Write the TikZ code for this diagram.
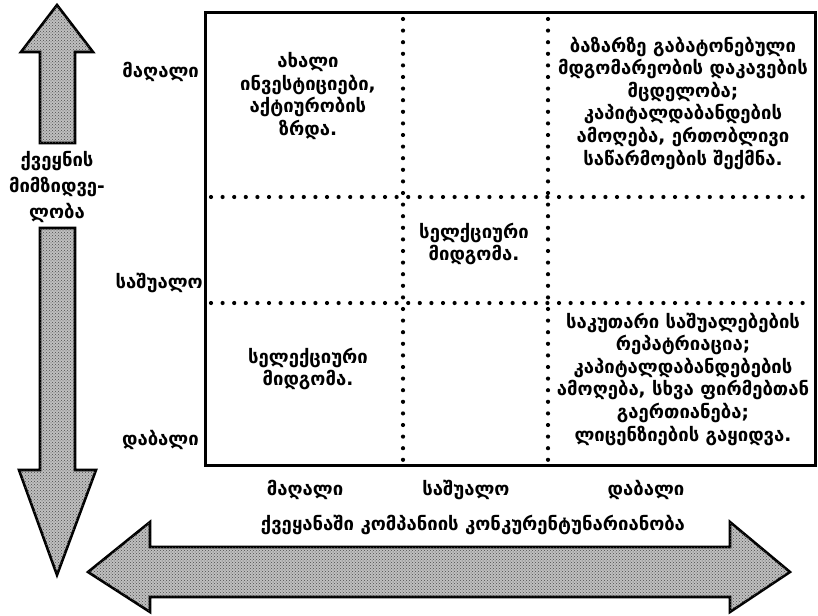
\documentclass[tikz,border=0pt]{standalone}
\usepackage{fontspec}
\setmainfont{DejaVu Sans}
\usetikzlibrary{patterns}

\tikzset{
  celltext/.style={font=\bfseries\fontsize{18.5}{22.6}\selectfont, align=center, inner sep=0pt},
  axistext/.style={font=\bfseries\fontsize{18.5}{26}\selectfont, align=center, inner sep=0pt},
  fatarrow/.style={draw, line width=2.6pt, line join=miter, fill=black!25,
    postaction={pattern=crosshatch dots, pattern color=black!70}},
  gridline/.style={line width=4.2pt, dash pattern=on 0pt off 11.6pt, line cap=round}
}

\begin{document}
\begin{tikzpicture}[x=1pt,y=-1pt]
  \useasboundingbox (0,0) rectangle (818,615);
  % the matrix
  \draw[line width=3pt] (205,13) rectangle (815,465);
  \draw[gridline] (403,19) -- (403,460);
  \draw[gridline] (548,19) -- (548,460);
  \draw[gridline] (211,197) -- (810,197);
  \draw[gridline] (211,303) -- (810,303);
  % cells
  \node[celltext] (hh) at (308,96) {ახალი\\ინვესტიციები,\\აქტიურობის\\ზრდა.};
  \node[celltext] (hl) at (683,103) {ბაზარზე გაბატონებული\\მდგომარეობის დაკავების\\მცდელობა;\\კაპიტალდაბანდების\\ამოღება, ერთობლივი\\საწარმოების შექმნა.};
  \node[celltext] (mm) at (474,244) {სელქციური\\მიდგომა.};
  \node[celltext] (lh) at (308,369) {სელექციური\\მიდგომა.};
  \node[celltext] (ll) at (683,379) {საკუთარი საშუალებების\\რეპატრიაცია;\\კაპიტალდაბანდებების\\ამოღება, სხვა ფირმებთან\\გაერთიანება;\\ლიცენზიების გაყიდვა.};
  % row and column levels
  \node[celltext, anchor=east] (rowhigh) at (199,72) {მაღალი};
  \node[celltext, anchor=east] (rowmid) at (203,283) {საშუალო};
  \node[celltext, anchor=east] (rowlow) at (199,440) {დაბალი};
  \node[celltext] (colhigh) at (305,490) {მაღალი};
  \node[celltext] (colmid) at (466,490) {საშუალო};
  \node[celltext] (collow) at (646,490) {დაბალი};
  % axis arrows
  \path[fatarrow] (57,5) -- (93,52) -- (75,52) -- (75,143) -- (40,143)
    -- (40,52) -- (21,52) -- cycle;
  \path[fatarrow] (40,228) -- (75,228) -- (75,470) -- (96,470) -- (57,575)
    -- (19,470) -- (40,470) -- cycle;
  \node[axistext] (attract) at (57,187) {ქვეყნის\\მიმზიდვე-\\ლობა};
  \path[fatarrow] (88,572) -- (150,522) -- (150,547) -- (730,547) -- (730,522)
    -- (790,572) -- (730,612) -- (730,597) -- (150,597) -- (150,612) -- cycle;
  \node[celltext] (compet) at (473,525) {ქვეყანაში კომპანიის კონკურენტუნარიანობა};
\end{tikzpicture}
\end{document}
